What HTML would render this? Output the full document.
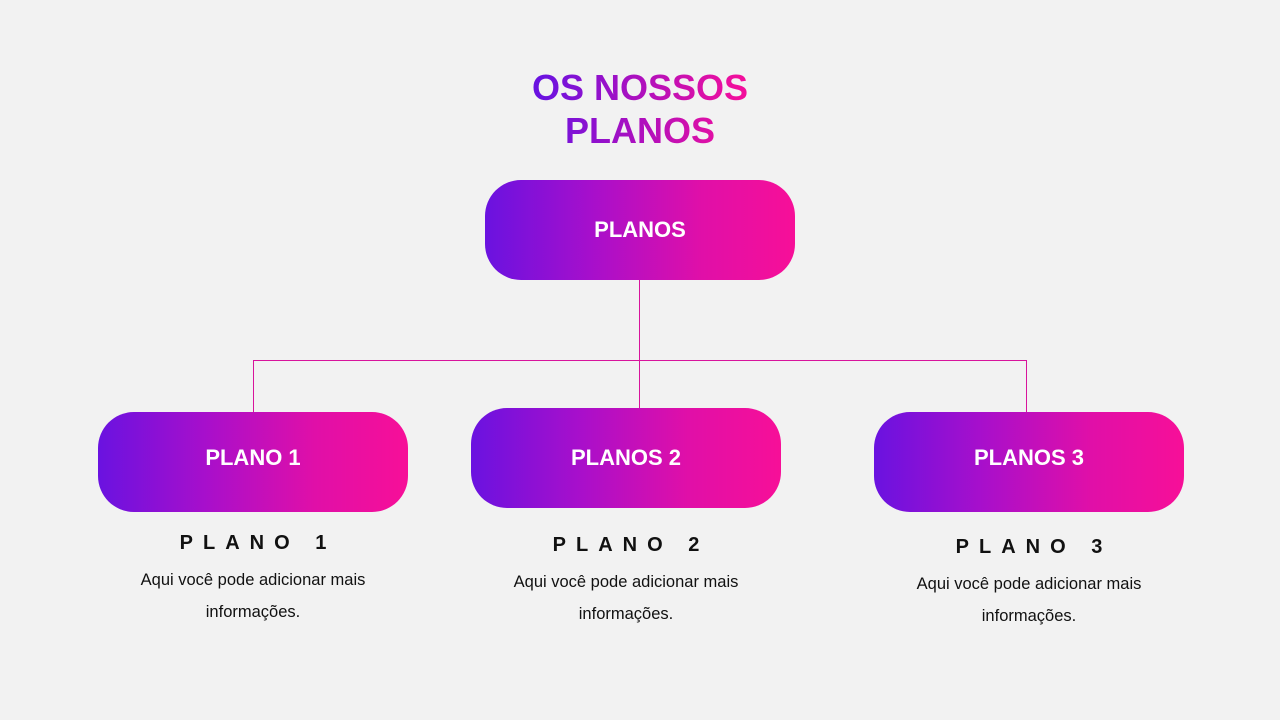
<!DOCTYPE html>
<html><head><meta charset="utf-8"><style>
body{margin:0;width:1280px;height:720px;background:#f2f2f2;position:relative;overflow:hidden;font-family:"Liberation Sans",sans-serif}
.t{position:absolute;left:440px;width:400px;text-align:center;font-weight:bold;font-size:36px;line-height:43px;top:66px;
background:linear-gradient(90deg,#6a12e0 25%,#f20f9c 75%);-webkit-background-clip:text;background-clip:text;color:transparent}
.b{position:absolute;width:310px;height:100px;border-radius:36px;background:linear-gradient(90deg,#6a12e0 0%,#a80fcb 35%,#e00fa8 70%,#f70f98 100%);color:#fff;font-weight:bold;font-size:22px;display:flex;align-items:center;justify-content:center;box-sizing:border-box}
.l{position:absolute;background:#d8149c}
.h{position:absolute;width:310px;text-align:center;font-weight:bold;font-size:20px;letter-spacing:10px;color:#111}
.d{position:absolute;width:310px;text-align:center;font-size:16.5px;line-height:32px;color:#111}
</style></head><body>
<div class="t">OS NOSSOS<br>PLANOS</div>
<div class="l" style="left:639px;top:280px;width:1px;height:128px"></div>
<div class="l" style="left:253px;top:360px;width:774px;height:1px"></div>
<div class="l" style="left:253px;top:360px;width:1px;height:52px"></div>
<div class="l" style="left:1026px;top:360px;width:1px;height:52px"></div>
<div class="b" style="left:485px;top:180px">PLANOS</div>
<div class="b" style="left:98px;top:412px;padding-bottom:8px">PLANO 1</div>
<div class="b" style="left:471px;top:408px">PLANOS 2</div>
<div class="b" style="left:874px;top:412px;padding-bottom:8px">PLANOS 3</div>
<div class="h" style="left:103px;top:532px">PLANO 1</div>
<div class="d" style="left:98px;top:564px">Aqui você pode adicionar mais<br>informações.</div>
<div class="h" style="left:476px;top:534px">PLANO 2</div>
<div class="d" style="left:471px;top:566px">Aqui você pode adicionar mais<br>informações.</div>
<div class="h" style="left:879px;top:536px">PLANO 3</div>
<div class="d" style="left:874px;top:568px">Aqui você pode adicionar mais<br>informações.</div>
</body></html>
